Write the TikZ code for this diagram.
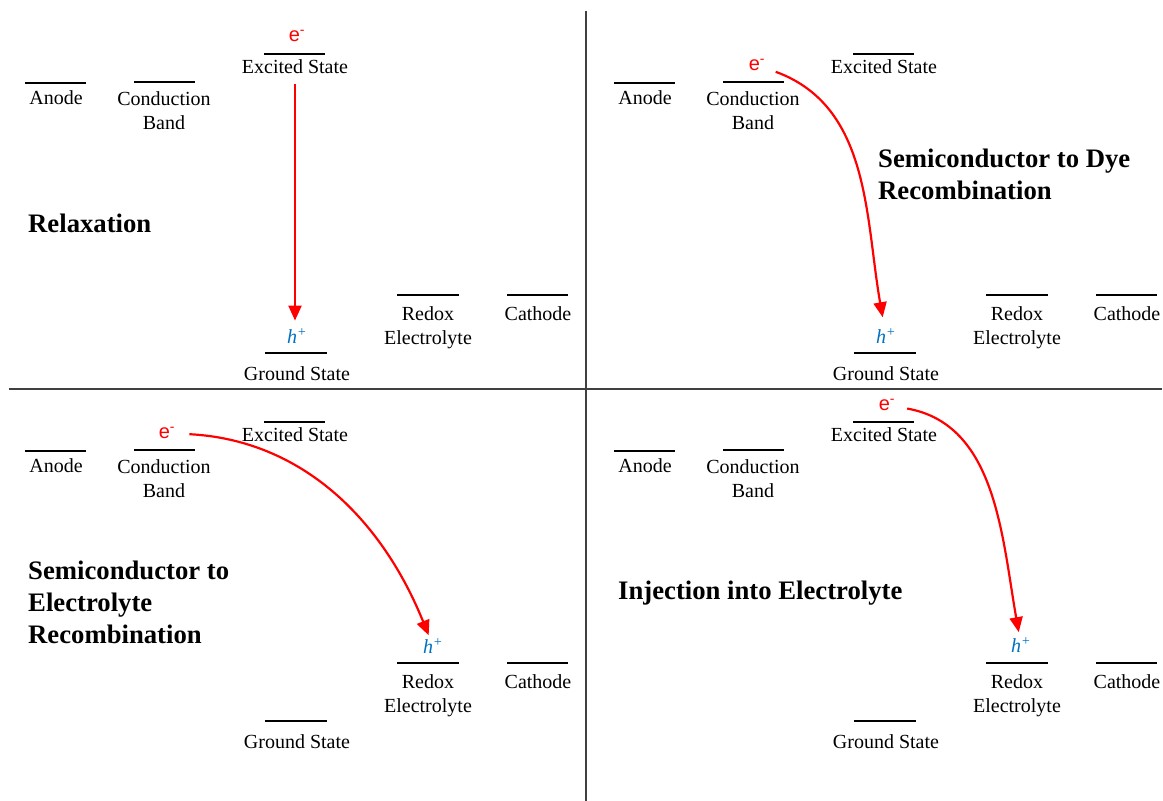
\documentclass[tikz,border=0pt]{standalone}
\usepackage{fontspec}
\setmainfont{Liberation Serif}
\newfontfamily\arialfont{Liberation Sans}
\usetikzlibrary{arrows.meta}
\definecolor{hblue}{RGB}{0,112,192}
\definecolor{divgray}{RGB}{64,64,64}
\tikzset{
 lvl/.style={line width=2pt, black},
 lbl/.style={anchor=base, inner sep=0pt, align=center, font=\fontsize{20}{24.5}\selectfont},
 ttl/.style={anchor=base west, inner sep=0pt, align=left, font=\fontsize{26.7}{32}\selectfont\bfseries},
 elec/.style={inner sep=0pt, text=red, font=\arialfont\fontsize{20}{24}\selectfont},
 hole/.style={inner sep=0pt, text=hblue, font=\fontsize{20}{24}\selectfont\itshape},
 trans/.style={red, line width=2.2pt, -{Triangle[width=13pt,length=15pt]}},
 divider/.style={divgray, line width=1.5pt},
}
\newcommand\energylevels[3]{%
 \begin{scope}[shift={(#2,#3)}]
  \draw[lvl] (25,83) -- (86,83);
  \node[lbl] (#1anode) at (56,104.5) {Anode};
  \draw[lvl] (134,82) -- (195,82);
  \node[lbl] (#1cb) at (164,129.5) {Conduction\\Band};
  \draw[lvl] (264,54) -- (325,54);
  \node[lbl] (#1excited) at (295,73.5) {Excited State};
  \draw[lvl] (265,353) -- (327,353);
  \node[lbl] (#1ground) at (297,380.5) {Ground State};
  \draw[lvl] (397,295) -- (459,295);
  \node[lbl] (#1redox) at (428,344.5) {Redox\\Electrolyte};
  \draw[lvl] (507,295) -- (568,295);
  \node[lbl] (#1cathode) at (538,320.5) {Cathode};
 \end{scope}}
\begin{document}
\begin{tikzpicture}[x=1pt,y=-1pt]
\useasboundingbox (0,0) rectangle (1163,801);
\draw[divider] (586,11) -- (586,801);
\draw[divider] (9,389) -- (1162,389);
\energylevels{tl}{0}{0}
\energylevels{tr}{589}{0}
\energylevels{bl}{0}{368}
\energylevels{br}{589}{368}
% top left: relaxation
\node[elec] (tle) at (297,36) {e\textsuperscript{-}};
\node[hole] (tlh) at (297,336) {h\textsuperscript{+}};
\draw[trans, shorten <=10.5pt, shorten >=7.5pt] (tlexcited.south) -- (tlexcited.south |- tlh.north);
\node[ttl] (t1) at (28,232) {Relaxation};
% top right
\node[elec] (tre) at (757,65) {e\textsuperscript{-}};
\node[hole] (trh) at (886,336) {h\textsuperscript{+}};
\draw[trans, shorten <=11pt, shorten >=11pt] (tre) to[out=-20,in=100] (trh);
\node[ttl] (t2) at (878,199) {Semiconductor to Dye\\Recombination};
% bottom left
\node[elec] (ble) at (167,433) {e\textsuperscript{-}};
\node[hole] (blh) at (433,646) {h\textsuperscript{+}};
\draw[trans, shorten <=14pt, shorten >=3pt] (ble) to[out=-3,in=112] (blh);
\node[ttl] (t3) at (28,643) {Semiconductor to\\Electrolyte\\Recombination};
% bottom right
\node[elec] (bre) at (887,405) {e\textsuperscript{-}};
\node[hole] (brh) at (1021,645) {h\textsuperscript{+}};
\draw[trans, shorten <=12pt, shorten >=5pt] (bre) to[out=-10,in=100] (brh);
\node[ttl] (t4) at (618,599) {Injection into Electrolyte};
\end{tikzpicture}
\end{document}
